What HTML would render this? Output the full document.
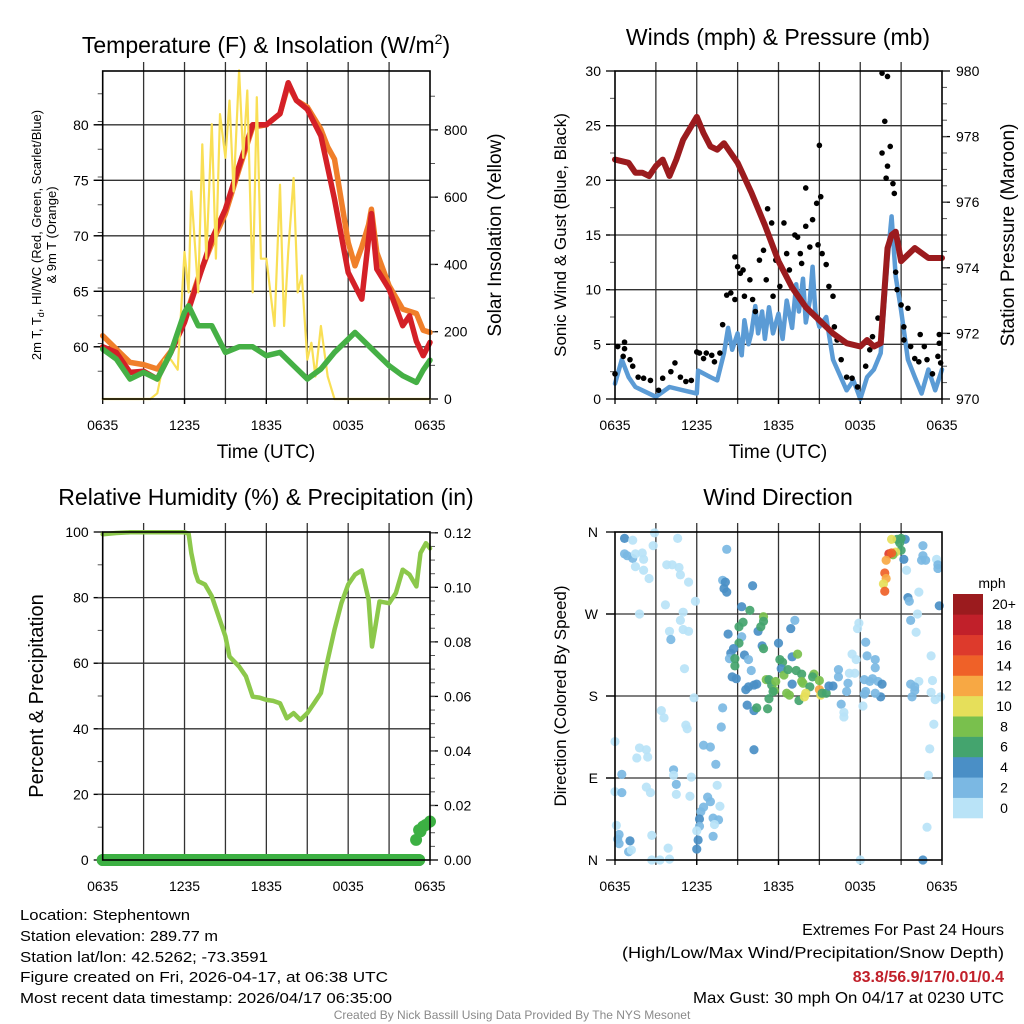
<!DOCTYPE html>
<html><head><meta charset="utf-8"><style>
html,body{margin:0;padding:0;background:#fff;}
svg{display:block;font-family:"Liberation Sans",sans-serif;}
</style></head><body>
<svg id="chart" width="1024" height="1024" viewBox="0 0 1024 1024" xmlns="http://www.w3.org/2000/svg">
<rect x="0" y="0" width="1024" height="1024" fill="#fff"/>
<text x="266" y="53" font-size="23" text-anchor="middle">Temperature (F) &amp; Insolation (W/m<tspan dy="-9" font-size="14">2</tspan><tspan dy="9">)</tspan></text>
<text x="778" y="45" font-size="23" text-anchor="middle">Winds (mph) &amp; Pressure (mb)</text>
<text x="266" y="505" font-size="23" text-anchor="middle">Relative Humidity (%) &amp; Precipitation (in)</text>
<text x="778" y="505" font-size="23" text-anchor="middle">Wind Direction</text>
<text x="266" y="458" font-size="19" text-anchor="middle">Time (UTC)</text>
<text x="778" y="458" font-size="19" text-anchor="middle">Time (UTC)</text>
<text transform="translate(41,235) rotate(-90)" font-size="13" text-anchor="middle">2m T, T<tspan dy="3" font-size="9">d</tspan><tspan dy="-3">, HI/WC (Red, Green, Scarlet/Blue)</tspan></text>
<text transform="translate(56,235) rotate(-90)" font-size="13" text-anchor="middle">&amp; 9m T (Orange)</text>
<text transform="translate(501,235) rotate(-90)" font-size="19" text-anchor="middle">Solar Insolation (Yellow)</text>
<text transform="translate(566,235) rotate(-90)" font-size="17" text-anchor="middle">Sonic Wind &amp; Gust (Blue, Black)</text>
<text transform="translate(1014,235) rotate(-90)" font-size="19" text-anchor="middle">Station Pressure (Maroon)</text>
<text transform="translate(43,696) rotate(-90)" font-size="20" text-anchor="middle">Percent &amp; Precipitation</text>
<text transform="translate(566,696) rotate(-90)" font-size="17" text-anchor="middle">Direction (Colored By Speed)</text>
<g id="plots"></g>
<text x="992" y="588" font-size="14" text-anchor="middle">mph</text>
<g font-size="15">
<text x="20" y="920" textLength="170" lengthAdjust="spacingAndGlyphs">Location: Stephentown</text>
<text x="20" y="941" textLength="198" lengthAdjust="spacingAndGlyphs">Station elevation: 289.77 m</text>
<text x="20" y="962" textLength="248" lengthAdjust="spacingAndGlyphs">Station lat/lon: 42.5262; -73.3591</text>
<text x="20" y="982" textLength="368" lengthAdjust="spacingAndGlyphs">Figure created on Fri, 2026-04-17, at 06:38 UTC</text>
<text x="20" y="1003" textLength="372" lengthAdjust="spacingAndGlyphs">Most recent data timestamp: 2026/04/17 06:35:00</text>
</g>
<g font-size="16" text-anchor="end">
<text x="1004" y="935">Extremes For Past 24 Hours</text>
<text x="1004" y="958" textLength="382" lengthAdjust="spacingAndGlyphs">(High/Low/Max Wind/Precipitation/Snow Depth)</text>
<text x="1004" y="982" fill="#c1202a" font-weight="bold">83.8/56.9/17/0.01/0.4</text>
<text x="1004" y="1003" textLength="311" lengthAdjust="spacingAndGlyphs">Max Gust: 30 mph On 04/17 at 0230 UTC</text>
</g>
<text x="512" y="1019" font-size="12" fill="#8a8a8a" text-anchor="middle">Created By Nick Bassill Using Data Provided By The NYS Mesonet</text>
</svg>
<script>
const xTickLabels = ["0635","1235","1835","0035","0635"];
const xTickHours = [0,6,12,18,24];
const tempTicks = [60,65,70,75,80];
const solarTicks = [0,200,400,600,800];
const windTicks = [0,5,10,15,20,25,30];
const presTicks = [970,972,974,976,978,980];
const rhTicks = [0,20,40,60,80,100];
const precTicks = [0,0.02,0.04,0.06,0.08,0.10,0.12];
const dirTickLabels = ["N","E","S","W","N"];
const dirTickValues = [0,90,180,270,360];
const speedBins = ["0","2","4","6","8","10","12","14","16","18","20+"];
const speedColors = ["#b9e3f7","#7bb8e3","#4a8fc6","#44a46e","#79c04d","#e6df5a","#f7a844","#ef6128","#dd3a2c","#c1202a","#9b1b1e"];

const redT = [0,1,2,3,4,5,6,7,8,9,10,11,12,13,13.6,14.2,15,16,17,18,19,19.7,20.1,21,22,22.5,23,23.5,24];
const redV = [60.0,59.5,57.7,57.8,57.1,59.5,62.2,66.0,69.7,72.4,76.3,80.0,80.0,81.0,83.8,82.2,81.4,79.0,73.3,66.7,64.3,72.0,67.0,65.2,61.9,62.8,60.5,59.2,60.4];
const orangeT = [0,1,2,3,4,5,6,7,8,9,10,11,12,13,13.6,14.2,15,16,16.5,17,18,18.5,19,19.5,19.7,20.1,21,22,23,23.5,24];
const orangeV = [61.0,59.8,58.6,58.4,58.0,59.6,62.4,66.2,69.3,72.0,76.0,79.8,80.0,81.0,83.6,82.2,81.6,79.6,78.0,76.9,69.4,67.3,69.0,71.0,72.4,68.5,65.5,63.4,63.0,61.5,61.3];
const greenT = [0,1,2,3,4,5,6,6.3,7,8,9,10,11,12,13,14,15,16,17,18,18.5,19,20,21,22,23,23.5,24];
const greenV = [59.8,58.9,57.1,57.7,57.1,59.5,63.1,63.7,61.9,61.9,59.5,60.0,60.0,59.2,59.5,58.3,57.1,58.0,59.5,60.7,61.3,60.7,59.5,58.3,57.4,56.8,57.9,58.8];
const solarT = [0,3.5,4,4.5,5,5.5,6,6.3,6.5,7,7.3,7.6,8,8.3,8.6,9,9.3,9.6,10,10.3,10.6,11,11.3,11.6,12,12.3,12.6,13,13.3,13.6,14,14.3,14.6,15,15.3,15.6,16,16.5,17,24];
const solarV = [0,0,17,117,117,87,437,317,617,317,757,417,817,417,847,717,887,617,977,717,917,317,897,417,417,317,217,637,217,437,657,317,367,117,167,67,217,67,0,0];

const presT = [0,1,1.5,2,2.5,3,3.5,4,4.5,5,6,6.5,7,7.5,8,9,10,11,12,13,14,15,16,17,18,18.5,19,19.5,20,20.3,20.6,21,21.5,22,23,24];
const presV = [977.3,977.2,976.9,976.9,976.8,977.1,977.3,976.8,977.3,977.9,978.6,978.1,977.7,977.6,977.8,977.2,976.3,975.3,974.2,973.4,972.8,972.4,972.0,971.7,971.6,971.8,971.6,971.7,974.6,975.0,975.1,974.2,974.4,974.6,974.3,974.3];
const windT = [0,0.5,1,1.5,2,3,4,5,6,6.1,7,7.5,8,8.3,8.6,9,9.3,9.5,9.8,10,10.3,10.5,10.8,11,11.3,11.6,12,12.3,12.6,13,13.3,13.5,13.8,14,14.3,14.5,14.7,15,15.5,16,17,17.5,18,18.5,19,19.5,20,20.3,20.6,21,21.5,22,22.5,23,23.5,24];
const windV = [1.4,3.6,2.0,1.1,0.8,0.2,1.1,0.8,0.5,2.6,2.0,1.7,4.2,6.5,4.5,6.0,4.0,7.2,5.0,6.0,8.5,6.0,8.0,5.5,8.4,6.0,7.8,5.5,9.0,6.5,10.5,8.0,11.0,7.0,9.0,12.1,8.0,6.6,7.5,3.6,0.8,1.7,0,2.0,2.7,4.2,12.7,16.7,11.2,8.1,3.6,2.0,0.5,2.7,0.8,2.7];
const gustT = [0,0.2,0.7,0.7,0.6,1.1,1.3,1.7,2.1,2.6,3.2,3.5,4.1,4.4,4.8,5.2,5.6,6,6.2,6.5,6.7,7.1,7.3,7.7,7.9,8.2,8.5,8.8,8.8,9,9.2,9.4,9.5,9.9,10.1,10.3,10.6,10.9,11.1,11.2,11.5,11.6,11.8,12.1,12.4,12.6,12.8,13.2,13.4,13.6,13.7,14,14,14.3,14.5,14.8,14.9,15,15.1,15.2,15.5,15.7,16,16.1,16.3,16.6,17,17.4,17.8,18.4,18.7,18.9,19.3,19.6,20,19.8,19.6,20.2,20,19.9,20.4,20.5,20.6,20.7,21,21.5,21.2,21.2,21.7,22,22.3,22.4,22.7,22.9,23.3,23.7,23.8,23.8,23.9];
const gustV = [2.3,4.8,5.2,4.6,3.9,3.6,3,2,1.9,1.7,0.8,1.9,2.5,3.3,2,1.6,1.7,4.3,4.2,3.7,4.2,4,3.4,4.2,6.8,9.5,9.7,9.1,13,12.1,11.5,11.8,9.4,10.9,9.1,8,12.7,13.6,10.9,17.4,16.1,9.4,12.7,10.3,16.1,13.3,11.8,15,14.8,13.3,12.4,19.3,15.8,13.9,16.4,17.9,14.1,23.2,18.5,13.3,12.3,10.3,9.4,6.6,5.4,3.6,2,1.9,1.1,3,4.5,5.7,7.4,29.8,29.5,25.4,22.5,23.1,21.3,20.2,19.7,18.8,11.6,10,8.6,8.3,6.6,5.4,4.8,3.7,3.4,5.9,4.8,3.6,2.3,3.9,5.1,5.9,3.3];

const rhT = [0,1,2,3,4,5,6,6.3,6.5,6.8,7,7.5,8,8.5,9,9.3,10,10.5,11,11.5,12,12.5,13,13.5,14,14.5,15,15.5,16,16.5,17,17.5,18,18.5,19,19.5,19.75,20,20.3,21,21.5,22,22.5,23,23.3,23.7,24];
const rhV = [99.3,99.7,99.9,99.9,99.9,99.9,99.9,99.5,93.6,87.5,85,84,80.4,74.3,68.2,62,59,56,49.8,49.5,48.8,48.5,47.8,43.2,44.8,42.7,44.8,47.8,50.9,61,70.2,78.3,84,87,88.3,79.4,65.1,71.2,78.8,78.3,81.4,88.5,87,83.4,93.6,96.6,95];
const precT = [0,1,2,3,4,5,6,7,8,9,10,11,12,13,14,15,16,17,18,19,20,21,22,23,23.2,22.98,23.2,23.3,23.5,23.7,24];
const precV = [0,0,0,0,0,0,0,0,0,0,0,0,0,0,0,0,0,0,0,0,0,0,0,0,0,0.0074,0.0110,0.0105,0.0123,0.0129,0.0141];

const dirT = [0.7,1.3,0.7,0.9,1.3,1.5,2.0,2.1,1.5,2.1,2.5,2.8,2.9,3.8,4.2,4.7,4.8,4.6,5.4,3.7,5.9,1.8,5.0,4.8,4.0,5.0,5.4,4.1,5.1,8.2,7.9,8.1,8.0,8.2,10.1,9.3,9.9,10.9,10.9,10.5,10.7,9.1,9.4,8.3,9.3,9.1,8.7,8.5,8.4,8.8,8.8,8.6,8.9,10.8,10.9,9.5,9.8,10.0,12.0,13.2,12.9,13.0,13.4,12.1,12.3,12.2,12.4,12.7,13.3,13.7,13.0,11.1,11.3,11.5,11.8,11.7,11.6,12.6,12.8,11.3,13.5,14.6,14.5,13.7,13.8,14.3,14.0,13.9,15.0,15.1,15.0,15.2,15.5,15.7,16.0,16.4,16.4,17.2,17.6,17.4,17.7,17.1,17.0,16.6,16.8,16.8,18.3,18.7,18.9,19.3,19.6,19.5,19.1,18.4,18.3,18.2,17.9,17.8,18.4,18.5,19.1,19.1,9.6,9.8,10.2,10.4,9.7,10.2,10.4,11.2,7.9,7.8,5.8,3.4,3.6,5.2,5.3,10.2,6.5,7.0,1.8,2.3,2.4,1.6,0.0,0.5,4.3,4.3,4.5,5.6,7.4,7.5,4.5,5.5,2.3,2.6,0.0,0.5,6.8,7.0,6.5,6.3,7.2,7.6,7.7,7.3,6.2,6.2,6.0,7.2,6.1,6.0,0.1,0.3,0.2,0.3,1.1,1.0,1.2,2.7,3.9,2.7,3.3,4.0,18.0,22.6,22.9,23.0,23.1,23.4,23.5,23.9,23.3,23.2,23.2,22.3,21.7,22.0,21.8,22.0,22.1,22.2,21.7,21.5,21.6,22.3,23.8,22.6,22.6,22.5,22.8,23.6,23.7,23.7,21.4,21.2,21.3,21.0,20.7,20.3,20.9,21.0,20.6,20.4,20.1,20.3,19.9,19.8,19.9,19.7,19.8];
const dirD = [353,351,336,334,331,336,337,330,322,318,309,345,359,324,324,321,313,353,305,280,284,270,272,263,251,253,251,242,210,341,307,305,298,294,301,278,274,267,262,251,256,256,261,248,245,238,232,227,221,221,213,201,199,235,232,225,220,208,238,263,254,223,226,220,217,210,203,209,208,204,193,198,198,192,196,186,185,183,181,177,175,204,201,196,194,190,183,179,187,181,197,183,183,191,191,209,201,205,205,226,220,194,185,171,162,157,198,196,199,196,193,179,183,185,182,169,260,254,239,224,220,211,187,190,192,193,170,164,167,166,167,146,178,164,156,148,144,121,126,124,123,121,113,112,130,94,99,93,83,91,105,82,72,70,80,74,75,74,69,64,58,53,46,44,59,39,45,37,32,26,22,12,38,28,23,18,21,9,11,27,13,0,0,1,0,0,36,93,122,149,176,179,197,184,224,196,193,190,179,186,250,270,263,288,284,294,279,345,334,329,329,330,324,320,318,330,352,353,352,352,348,340,338,335,336,337,329,315,309,303,295];
const dirS = [5,1,3,3,3,1,1,1,1,1,1,1,1,1,1,1,1,1,1,1,1,1,1,1,1,1,1,3,1,3,3,5,5,5,5,5,7,9,7,5,7,7,7,5,3,7,5,5,3,7,7,5,5,5,7,5,3,3,5,3,5,5,9,7,7,5,9,7,7,7,5,9,7,7,9,9,7,9,9,7,7,9,7,9,9,7,11,11,13,11,9,7,7,5,5,3,3,1,1,1,1,3,3,3,1,1,3,3,3,3,5,5,3,3,3,1,1,1,3,3,3,3,5,5,5,5,5,5,7,7,3,3,1,1,1,1,1,5,3,3,1,1,1,1,1,3,3,1,3,1,3,1,1,1,1,1,1,3,3,3,3,3,3,3,1,1,5,3,1,3,5,5,1,3,3,3,5,3,1,1,1,1,1,1,1,5,1,1,1,1,1,1,1,1,1,1,3,3,3,3,1,1,3,5,3,1,5,3,3,3,3,1,3,3,1,5,5,7,7,11,7,7,11,9,17,15,13,15,13,11,15];

const NS = "http://www.w3.org/2000/svg";
const root = document.getElementById("plots");
function mk(tag, attrs, parent) {
  const e = document.createElementNS(NS, tag);
  for (const k in attrs) e.setAttribute(k, attrs[k]);
  (parent || root).appendChild(e);
  return e;
}
const P1 = {x0:102.7, x1:430, y0:71, y1:399};
const P2 = {x0:615, x1:942, y0:71, y1:399};
const P3 = {x0:102.7, x1:430, y0:532, y1:860};
const P4 = {x0:615, x1:942, y0:532, y1:860};
function sx(p, h) { return p.x0 + h / 24 * (p.x1 - p.x0); }
function sy(p, v, lo, hi) { return p.y1 - (v - lo) / (hi - lo) * (p.y1 - p.y0); }

function panelFrame(p, name, hLines) {
  const g = mk("g", {});
  
  
  for (let h = 3; h < 24; h += 3) {
    const l = mk("line", {x1:sx(p,h), x2:sx(p,h), y1:p.y0-9, y2:p.y1+5, stroke:"#333", "stroke-width":1.3}, g);
    
    
  }
  hLines.forEach(y => {
    const l = mk("line", {x1:p.x0-9, x2:p.x1, y1:y, y2:y, stroke:"#333", "stroke-width":1.3}, g);
    
    
  });
  xTickHours.forEach((h, i) => {
    const t = mk("line", {x1:sx(p,h), x2:sx(p,h), y1:p.y1, y2:p.y1+5, stroke:"#000", "stroke-width":1.3}, g);
    
    
    const tx = mk("text", {x:sx(p,h), y:p.y1+31, "font-size":14, "text-anchor":"middle"}, g);
    tx.textContent = xTickLabels[i];
    
    
  });
}
function frameBox(p, name) {
  const r = mk("rect", {x:p.x0, y:p.y0, width:p.x1-p.x0, height:p.y1-p.y0, fill:"none", stroke:"#000", "stroke-width":1.6});
  
  
}
function leftAxis(p, ticks, lo, hi, fmt, minorStep) {
  ticks.forEach(v => {
    const y = sy(p, v, lo, hi);
    const t = mk("text", {x:p.x0-14, y:y+5, "font-size":14, "text-anchor":"end"});
    t.textContent = fmt(v);
    
    
    const tk = mk("line", {x1:p.x0-9, x2:p.x0, y1:y, y2:y, stroke:"#000", "stroke-width":1.3});
    
    
  });
  if (minorStep) for (let v = lo + minorStep; v < hi; v += minorStep) {
    const y = sy(p, v, lo, hi);
    const tk = mk("line", {x1:p.x0-5, x2:p.x0, y1:y, y2:y, stroke:"#555", "stroke-width":1});
    
    
  }
}
function rightAxis(p, ticks, lo, hi, fmt, minorStep) {
  ticks.forEach(v => {
    const y = sy(p, v, lo, hi);
    const t = mk("text", {x:p.x1+14, y:y+5, "font-size":14, "text-anchor":"start"});
    t.textContent = fmt(v);
    
    
    const tk = mk("line", {x1:p.x1, x2:p.x1+8, y1:y, y2:y, stroke:"#000", "stroke-width":1.3});
    
    
  });
  if (minorStep) for (let v = lo + minorStep; v < hi - 1e-9; v += minorStep) {
    const y = sy(p, v, lo, hi);
    const tk = mk("line", {x1:p.x1, x2:p.x1+5, y1:y, y2:y, stroke:"#555", "stroke-width":1});
    
    
  }
}
function pathFrom(p, T, V, lo, hi) {
  return T.map((t, i) => (i ? "L" : "M") + sx(p, t).toFixed(1) + "," + sy(p, V[i], lo, hi).toFixed(1)).join("");
}
function line(p, T, V, lo, hi, color, w) {
  return mk("path", {d:pathFrom(p, T, V, lo, hi), fill:"none", stroke:color, "stroke-width":w, "stroke-linejoin":"round", "stroke-linecap":"round"});
}

/* Panel 1 */
const T_LO = 55.3, T_HI = 84.85, S_LO = 0, S_HI = 975;
panelFrame(P1, 'temperature', tempTicks.map(v => sy(P1, v, T_LO, T_HI)));
leftAxis(P1, tempTicks, T_LO, T_HI, v => String(v), 2.5);
rightAxis(P1, solarTicks, S_LO, S_HI, v => String(v), 100);
const orangeLine = line(P1, orangeT, orangeV, T_LO, T_HI, "#f07f2a", 5.5);


const redLine = line(P1, redT, redV, T_LO, T_HI, "#d42027", 5.5);


const solarLine = line(P1, solarT, solarV, S_LO, S_HI, "#f9df55", 2.2);


const greenLine = line(P1, greenT, greenV, T_LO, T_HI, "#45b045", 5.5);


frameBox(P1, 'temperature');

/* Panel 2 */
const W_LO = 0, W_HI = 30, PR_LO = 970, PR_HI = 980;
panelFrame(P2, 'wind', [5,10,15,20,25].map(v => sy(P2, v, W_LO, W_HI)));
leftAxis(P2, windTicks, W_LO, W_HI, v => String(v), 2.5);
rightAxis(P2, presTicks, PR_LO, PR_HI, v => String(v), 0.5);
const windLine = line(P2, windT, windV, W_LO, W_HI, "#5b9bd5", 4.5);


const gustGroup = mk("g", {fill:"#000"});


gustT.forEach((t, i) => {
  const c = mk("circle", {cx:sx(P2, t), cy:sy(P2, gustV[i], W_LO, W_HI), r:2.8}, gustGroup);
  
  
});
const presLine = line(P2, presT, presV, PR_LO, PR_HI, "#9b1b1e", 6);


frameBox(P2, 'wind');

/* Panel 3 */
const RH_LO = 0, RH_HI = 100, PC_LO = 0, PC_HI = 0.1203;
panelFrame(P3, 'humidity', [20,40,60,80].map(v => sy(P3, v, RH_LO, RH_HI)));
leftAxis(P3, rhTicks, RH_LO, RH_HI, v => String(v), 10);
rightAxis(P3, precTicks, PC_LO, PC_HI, v => v.toFixed(2), 0.005);
const rhLine = line(P3, rhT, rhV, RH_LO, RH_HI, "#8cc84b", 4.5);


const zT = [], zV = [];
precT.forEach((t, i) => { if (precV[i] === 0) { zT.push(t); zV.push(0); } });
const precLine = line(P3, zT, zV, PC_LO, PC_HI, "#3cb043", 12);


precT.forEach((t, i) => {
  const c = mk("circle", {cx:sx(P3, t), cy:sy(P3, precV[i], PC_LO, PC_HI), r:6, fill:"#3cb043"});
  
  
});
frameBox(P3, 'humidity');

/* Panel 4 */
panelFrame(P4, 'direction', [90,180,270].map(v => sy(P4, v, 0, 360)));
dirTickValues.forEach((v, i) => {
  const y = sy(P4, v, 0, 360);
  const t = mk("text", {x:P4.x0-17, y:y+5, "font-size":14, "text-anchor":"end"});
  t.textContent = dirTickLabels[i];
  
  
  const tk = mk("line", {x1:P4.x0-9, x2:P4.x0, y1:y, y2:y, stroke:"#000", "stroke-width":1.3});
  
  
});
function speedColor(s) { return speedColors[Math.min(10, Math.floor(s / 2))]; }
dirT.forEach((t, i) => {
  const c = mk("circle", {cx:sx(P4, t), cy:sy(P4, dirD[i], 0, 360), r:4.6, fill:speedColor(dirS[i]), "fill-opacity":0.92});
  
  
});
frameBox(P4, 'direction');

/* Colorbar */
const cb = {x:953, y0:594, y1:818};
const bh = (cb.y1 - cb.y0) / speedBins.length;
speedBins.forEach((lab, i) => {
  const k = speedBins.length - 1 - i;
  const r = mk("rect", {x:cb.x, y:cb.y0 + k * bh, width:30, height:bh + 0.3, fill:speedColors[i]});
  
  
  const t = mk("text", {x:1004, y:cb.y0 + k * bh + bh / 2 + 5, "font-size":14, "text-anchor":"middle"});
  t.textContent = lab;
  
  
});
</script>
</body></html>
